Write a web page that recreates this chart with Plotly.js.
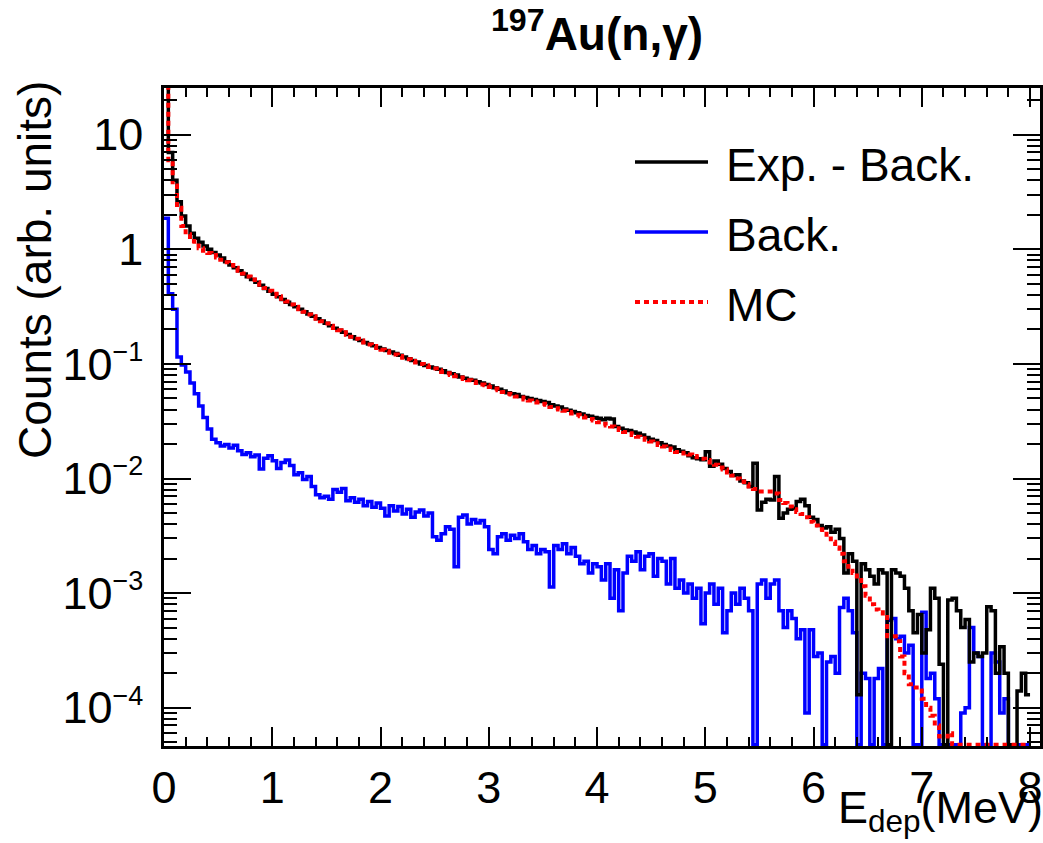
<!DOCTYPE html>
<html>
<head>
<meta charset="utf-8">
<script src="https://cdn.plot.ly/plotly-3.0.1.min.js"></script>
<style>html,body{margin:0;padding:0;background:#fff;}#chart{width:1043px;height:843px;}</style>
</head>
<body>
<div id="chart"></div>
<script>
// Histogram bin width (MeV); bins start at 0
var binWidth = 0.04;

// Exp. - Back. (black)
var expMinusBack = [
 30, 7.0, 4.0, 2.6, 1.95, 1.6, 1.38, 1.25, 1.15, 1.07,
 1.0, 0.94, 0.89, 0.84, 0.78, 0.73, 0.69, 0.65, 0.61, 0.575,
 0.545, 0.515, 0.485, 0.455, 0.43, 0.405, 0.385, 0.365, 0.345, 0.33,
 0.315, 0.30, 0.285, 0.272, 0.26, 0.248, 0.237, 0.226, 0.215, 0.205,
 0.197, 0.189, 0.181, 0.173, 0.166, 0.160, 0.154, 0.149, 0.144, 0.139,
 0.135, 0.131, 0.127, 0.123, 0.119, 0.115, 0.111, 0.107, 0.104, 0.100,
 0.097, 0.094, 0.092, 0.090, 0.087, 0.084, 0.082, 0.080, 0.077, 0.075,
 0.073, 0.072, 0.070, 0.068, 0.066, 0.064, 0.062, 0.060, 0.058, 0.056,
 0.055, 0.054, 0.052, 0.051, 0.050, 0.049, 0.048, 0.047, 0.046, 0.044,
 0.043, 0.042, 0.0405, 0.0395, 0.0385, 0.0375, 0.0365, 0.0355, 0.035, 0.034,
 0.0335, 0.0325, 0.0335, 0.033, 0.0285, 0.0275, 0.0265, 0.0262, 0.0255, 0.0248,
 0.024, 0.0228, 0.022, 0.0215, 0.0205, 0.0198, 0.0192, 0.0188, 0.0178, 0.0173,
 0.0168, 0.0158, 0.0152, 0.0149, 0.0146, 0.0171, 0.0128, 0.0142, 0.0133, 0.0122,
 0.0115, 0.0106, 0.0108, 0.0095, 0.0092, 0.0085, 0.0136, 0.0053, 0.0062, 0.0066,
 0.0065, 0.0104, 0.0045, 0.0050, 0.0054, 0.0055, 0.0063, 0.0066, 0.0058, 0.0046,
 0.0044, 0.0039, 0.0037, 0.0038, 0.0034, 0.0036, 0.0030, 0.0015, 0.0022, 0.0019,
 0.00013, 0.0018, 0.0016, 0.0014, 0.0012, 0.0016, 0.0015, 0, 0.0016, 0.0015,
 0.0014, 0.0011, 0.0007, 0.00045, 0.00065, 0.0003, 0.00048, 0.0011, 0.0009, 0.00024,
 0, 0.00087, 0.0009, 0.0007, 0.0005, 0.00059, 0.00025, 0.0003, 0.00028, 0.0003,
 0.00076, 0.0007, 0.0002, 0.00034, 0.0002, 0, 0, 0.00014, 0.0002, 0.00013
];

// Back. (blue)
var backCounts = [
 1.87, 0.41, 0.30, 0.115, 0.098, 0.085, 0.068, 0.055, 0.043, 0.034,
 0.027, 0.022, 0.0205, 0.0192, 0.0198, 0.0185, 0.0195, 0.0175, 0.0162, 0.0168,
 0.0155, 0.0160, 0.0121, 0.0150, 0.0158, 0.0143, 0.0122, 0.0138, 0.0145, 0.0130,
 0.0108, 0.0112, 0.0098, 0.0104, 0.0085, 0.0072, 0.0068, 0.0070, 0.0066, 0.0080,
 0.0076, 0.0082, 0.0064, 0.0068, 0.0062, 0.0066, 0.0058, 0.0063, 0.0056, 0.0061,
 0.0055, 0.0047, 0.0058, 0.0052, 0.0057, 0.0049, 0.0054, 0.0046, 0.0051, 0.0053,
 0.0047, 0.0050, 0.0031, 0.0029, 0.0033, 0.0038, 0.0036, 0.0017, 0.0046, 0.0048,
 0.0040, 0.0044, 0.0041, 0.0043, 0.0038, 0.0024, 0.0022, 0.0031, 0.0033, 0.0029,
 0.0032, 0.0030, 0.0033, 0.0028, 0.0024, 0.0026, 0.0022, 0.0024, 0.0023, 0.00113,
 0.0026, 0.0024, 0.0027, 0.0022, 0.0025, 0.0021, 0.0018, 0.0019, 0.0015, 0.0018,
 0.0017, 0.0013, 0.0018, 0.0009, 0.0016, 0.0007, 0.0015, 0.0021, 0.0019, 0.0023,
 0.0016, 0.0021, 0.0022, 0.0014, 0.0020, 0.0019, 0.0012, 0.0020, 0.0011, 0.0013,
 0.0010, 0.0012, 0.0009, 0.0011, 0.00054, 0.0010, 0.0012, 0.0008, 0.0011, 0.00045,
 0.0007, 0.0010, 0.0008, 0.0011, 0.0009, 0.0007, 0, 0.0012, 0.0013, 0.0009,
 0.0012, 0.0013, 0.0007, 0.0005, 0.0007, 0.0006, 0.0004, 0.00048, 0.00009, 0.00048,
 0.00028, 0.0003, 0, 0.00025, 0.00028, 0.0002, 0.00075, 0.0009, 0.0007, 0.00045,
 0, 0.0002, 0.00018, 0, 0.00018, 0.00022, 0, 0.00058, 0.0006, 0.0004,
 0.00042, 0.0003, 0.00035, 0, 0, 0.00068, 0.00018, 0.0002, 0.00012, 0,
 0, 0, 0, 0, 0.00009, 0.0001, 0.0005, 0.0003, 0.00028, 0,
 0, 0.0003, 0.00025, 0.00009, 0.00012, 0, 0, 0, 0, 0
];

// MC (red dotted)
var mcCounts = [
 30, 6.0, 3.6, 2.3, 1.6, 1.35, 1.18, 1.08, 1.02, 0.97,
 0.93, 0.89, 0.85, 0.81, 0.77, 0.73, 0.69, 0.65, 0.615, 0.58,
 0.545, 0.515, 0.49, 0.46, 0.435, 0.41, 0.39, 0.37, 0.35, 0.33,
 0.315, 0.30, 0.285, 0.27, 0.26, 0.248, 0.236, 0.225, 0.215, 0.206,
 0.197, 0.189, 0.18, 0.173, 0.166, 0.16, 0.154, 0.148, 0.143, 0.138,
 0.133, 0.129, 0.125, 0.121, 0.117, 0.113, 0.11, 0.106, 0.103, 0.1,
 0.097, 0.094, 0.091, 0.088, 0.085, 0.083, 0.080, 0.078, 0.076, 0.074,
 0.072, 0.070, 0.068, 0.066, 0.065, 0.063, 0.061, 0.059, 0.057, 0.055,
 0.054, 0.052, 0.051, 0.049, 0.048, 0.047, 0.046, 0.045, 0.044, 0.042,
 0.041, 0.040, 0.039, 0.038, 0.037, 0.036, 0.035, 0.034, 0.033, 0.032,
 0.031, 0.030, 0.029, 0.0285, 0.0275, 0.0265, 0.0255, 0.0248, 0.024, 0.0232,
 0.0225, 0.0218, 0.021, 0.0203, 0.0196, 0.019, 0.0183, 0.0177, 0.017, 0.0165,
 0.0168, 0.0162, 0.0157, 0.0153, 0.0149, 0.0145, 0.0138, 0.0132, 0.0125, 0.012,
 0.0113, 0.0106, 0.0100, 0.0094, 0.0089, 0.0085, 0.0081, 0.0077, 0.0077, 0.0077,
 0.0077, 0.0074, 0.0065, 0.0061, 0.0057, 0.0054, 0.0051, 0.0049, 0.0046, 0.0042,
 0.0039, 0.0036, 0.0033, 0.0030, 0.0028, 0.0025, 0.0022, 0.0019, 0.0017, 0.0015,
 0.0013, 0.00115, 0.00095, 0.0008, 0.00072, 0.00068, 0.00062, 0.00042, 0.00042, 0.00038,
 0.00028, 0.0002, 0.00016, 0.00015, 0.00015, 0.00012, 0.0001, 0.000085, 0.00007, 0.000056,
 0.000056, 0.00006, 0, 0, 0, 0, 0, 0, 0, 0,
 0, 0, 0, 0, 0, 0, 0, 0, 0, 0
];

var legendNames = ['Exp. - Back.', 'Back.', 'MC'];
var seriesColors = ['#000000', '#0000ff', '#ff0000'];

// y tick labels (ROOT style powers of ten)
var yTickVals = [1e-4, 1e-3, 1e-2, 1e-1, 1, 10];
var yTickText = [
  '10<sup><span style="font-size:27px">−4</span></sup>\u2009',
  '10<sup><span style="font-size:27px">−3</span></sup>\u2009',
  '10<sup><span style="font-size:27px">−2</span></sup>\u2009',
  '10<sup><span style="font-size:27px">−1</span></sup>\u2009',
  '1\u2009', '10\u2009'
];
var xTickVals = [0, 1, 2, 3, 4, 5, 6, 7, 8];

function buildChart() {
  var X_RANGE = [0, 8.092];
  var Y_RANGE = [-4.334, 1.4075];
  var FONT = '"Liberation Sans", Arial, Helvetica, sans-serif';
  // empty bins are drawn on the lower frame edge, as ROOT does
  var FLOOR = 4.75e-5;

  function stepX(vals) {
    var xs = [];
    for (var i = 0; i <= vals.length; i++) xs.push(+(i * binWidth).toFixed(4));
    return xs;
  }
  function stepY(vals) {
    var ys = vals.map(function (v) { return v > 0 ? v : FLOOR; });
    ys.push(ys[ys.length - 1]);
    return ys;
  }

  var plotTraces = [
    {
      x: stepX(backCounts), y: stepY(backCounts), type: 'scatter', mode: 'lines',
      line: {shape: 'hv', color: seriesColors[1], width: 3.5},
      name: legendNames[1], showlegend: false
    },
    {
      x: stepX(expMinusBack), y: stepY(expMinusBack), type: 'scatter', mode: 'lines',
      line: {shape: 'hv', color: seriesColors[0], width: 3.5},
      name: legendNames[0], showlegend: false
    },
    {
      x: stepX(mcCounts), y: stepY(mcCounts), type: 'scatter', mode: 'lines',
      line: {shape: 'hv', color: seriesColors[2], width: 4, dash: '5px,4px'},
      name: legendNames[2], showlegend: false
    }
  ];

  // plot area in pixels: x 164..1040, y 88..746
  function toPaperX(v) { return (v - 164) / 876; }
  function toPaperY(v) { return (746 - v) / 658; }

  // legend (drawn as ROOT TLegend: long line samples + text)
  var legendRowsY = [162, 232, 302];
  var legendDash = ['solid', 'solid', '5px,4px'];
  var legendWidth = [3.5, 3.5, 4];
  var legendShapes = [];
  var notes = [];
  legendNames.forEach(function (name, i) {
    legendShapes.push({
      type: 'line', xref: 'paper', yref: 'paper',
      x0: toPaperX(635), x1: toPaperX(708), y0: toPaperY(legendRowsY[i]), y1: toPaperY(legendRowsY[i]),
      line: {color: seriesColors[i], width: legendWidth[i], dash: legendDash[i]}
    });
    notes.push({
      text: name, xref: 'paper', yref: 'paper',
      x: toPaperX(724), y: toPaperY(legendRowsY[i] + 3), xanchor: 'left', yanchor: 'middle',
      showarrow: false, font: {family: FONT, size: 46, color: '#000000'}
    });
  });

  notes.push({
    text: 'Counts (arb. units)', textangle: -90,
    xref: 'paper', yref: 'paper', x: toPaperX(35), y: toPaperY(270),
    xanchor: 'center', yanchor: 'middle', showarrow: false,
    font: {family: FONT, size: 46, color: '#000000'}
  });
  notes.push({
    text: 'E<sub>dep</sub>(MeV)',
    xref: 'paper', yref: 'paper', x: toPaperX(1045), y: toPaperY(810),
    xanchor: 'right', yanchor: 'middle', showarrow: false,
    font: {family: FONT, size: 45, color: '#000000'}
  });

  var plotLayout = {
    width: 1043, height: 843,
    margin: {l: 164, r: 3, t: 88, b: 97},
    paper_bgcolor: '#ffffff', plot_bgcolor: '#ffffff',
    font: {family: FONT, color: '#000000'},
    showlegend: false,
    hovermode: false,
    title: {
      text: '<b><sup>197</sup>Au(n,γ)</b>',
      font: {family: FONT, size: 46, color: '#000000'},
      x: 597 / 1043, xref: 'container', xanchor: 'center',
      y: 1 - 34 / 843, yref: 'container', yanchor: 'middle'
    },
    xaxis: {
      range: X_RANGE, tickmode: 'array', tickvals: xTickVals,
      ticks: 'inside', ticklen: 19, tickwidth: 2, tickcolor: '#000',
      showline: true, mirror: 'ticks', linewidth: 2.5, linecolor: '#000',
      minor: {ticks: 'inside', ticklen: 9, tickwidth: 2, tickcolor: '#000', dtick: 0.2},
      showgrid: false, zeroline: false,
      tickfont: {family: FONT, size: 45, color: '#000000'}
    },
    yaxis: {
      type: 'log', range: Y_RANGE, tickmode: 'array',
      tickvals: yTickVals, ticktext: yTickText,
      ticks: 'inside', ticklen: 27, tickwidth: 2, tickcolor: '#000',
      showline: true, mirror: 'ticks', linewidth: 2.5, linecolor: '#000',
      minor: {ticks: 'inside', ticklen: 13, tickwidth: 2, tickcolor: '#000', dtick: 'D1'},
      showgrid: false, zeroline: false,
      tickfont: {family: FONT, size: 45, color: '#000000'}
    },
    shapes: legendShapes,
    annotations: notes
  };

  Plotly.newPlot('chart', plotTraces, plotLayout, {displayModeBar: false});
}

buildChart();
</script>
</body>
</html>
